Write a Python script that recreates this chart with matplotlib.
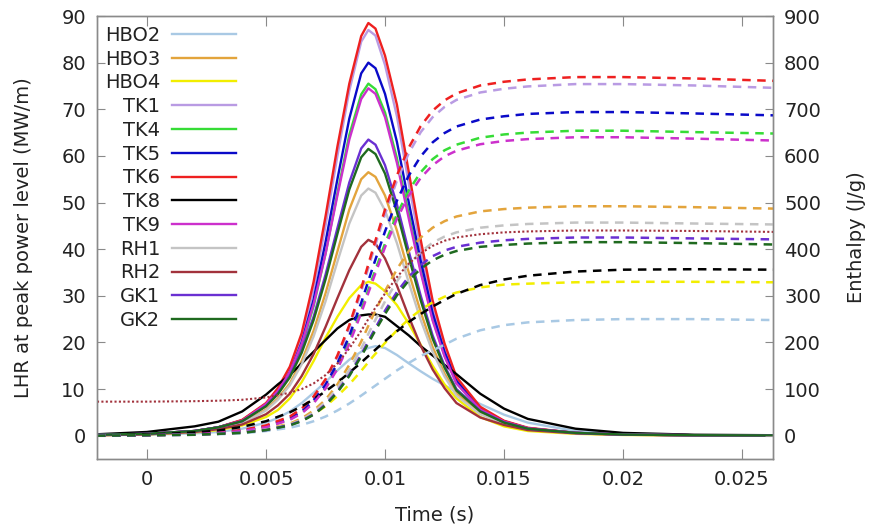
"""
LHR pulses (solid, left axis) and fuel enthalpy (dashed, right axis)
"""
import matplotlib
matplotlib.use('Agg')
import matplotlib.pyplot as plt

# time grid of the power pulses (s)
t_lhr = [-0.0021, 0.0, 0.002, 0.003, 0.004, 0.005, 0.0055, 0.006, 0.0065, 0.007,
         0.0075, 0.008, 0.0085, 0.009, 0.0093, 0.0096, 0.01, 0.0105, 0.011, 0.0115,
         0.012, 0.0125, 0.013, 0.014, 0.015, 0.016, 0.018, 0.02, 0.023, 0.0263]

# LHR at peak power level (MW/m)
lhr_hbo2 = [0.1, 0.2, 0.5, 0.8, 1.5, 2.8, 3.8, 5.2, 7, 9.2, 11.5, 14, 16.3, 18, 18.8,
            19.2, 18.8, 17.3, 15.5, 13.8, 12.2, 10.8, 9.4, 6.8, 4.5, 2.8, 1, 0.4, 0.1, 0]
lhr_hbo3 = [0.1, 0.3, 0.8, 1.5, 2.7, 5.6, 8, 11.2, 16, 22.5, 30.5, 39.5, 48.5, 55, 56.5,
            55.5, 51.5, 44, 35, 26.5, 19, 13.3, 9, 4.8, 2.7, 1.4, 0.5, 0.2, 0.1, 0.05]
lhr_hbo4 = [0.1, 0.3, 0.7, 1.2, 2.2, 4, 5.5, 8, 11.5, 16, 21, 25.5, 29.5, 32.3, 33,
            32.6, 31, 28, 24, 19.5, 15, 11, 8, 4, 2, 1, 0.4, 0.15, 0.05, 0]
lhr_tk1 = [0.2, 0.4, 1.0, 1.8, 3.3, 6.8, 9.8, 14.2, 21, 31.5, 45, 60, 74, 84.5, 87,
           85.8, 79.5, 68.5, 54, 40, 27.5, 18.5, 12, 5.9, 3.1, 1.6, 0.6, 0.25, 0.1, 0.05]
lhr_tk4 = [0.2, 0.4, 1.0, 1.8, 3.2, 6.6, 9.4, 13.2, 19.2, 27.8, 39, 52, 64.5, 73.2, 75.5,
           74.3, 69.3, 59.5, 47.5, 35.5, 25, 17.2, 11.3, 5.7, 3.0, 1.6, 0.6, 0.25, 0.1, 0.05]
lhr_tk5 = [0.2, 0.4, 1.0, 1.8, 3.3, 6.8, 9.6, 13.6, 20, 29.2, 41.5, 55, 68, 77.7, 80,
           78.8, 73.3, 63, 50, 37.5, 26.3, 18, 11.8, 5.8, 3.1, 1.6, 0.6, 0.25, 0.1, 0.05]
lhr_tk6 = [0.2, 0.4, 1.0, 1.8, 3.4, 7.0, 10.2, 14.8, 22, 33, 47, 62, 75.5, 85.7, 88.5,
           87.3, 81.5, 71, 56.5, 42, 29, 19.8, 12.6, 6.2, 3.2, 1.7, 0.6, 0.25, 0.1, 0.05]
lhr_tk8 = [0.3, 0.8, 2, 3, 5.2, 8.8, 11, 13, 15.5, 18, 20.5, 23, 24.8, 25.8, 26,
           26, 25.5, 23.5, 21.5, 19.2, 17.2, 15.2, 13.2, 9, 5.8, 3.6, 1.5, 0.6, 0.2, 0.1]
lhr_tk9 = [0.2, 0.4, 1.0, 1.8, 3.2, 6.8, 9.6, 13.6, 19.7, 28.2, 39, 51.5, 63.5, 72.2, 74.5,
           73.3, 68.3, 58.5, 46.5, 35, 24.7, 17, 11.2, 5.6, 3.0, 1.6, 0.6, 0.25, 0.1, 0.05]
lhr_rh1 = [0.1, 0.3, 0.8, 1.4, 2.6, 5.4, 7.7, 10.8, 15.3, 21.3, 28.8, 37.3, 45.5, 51.5, 53,
           52.1, 48.3, 41.3, 32.8, 24.8, 18, 12.7, 8.6, 4.6, 2.6, 1.3, 0.5, 0.2, 0.1, 0.05]
lhr_rh2 = [0.1, 0.3, 0.8, 1.4, 2.4, 4.6, 6.5, 9, 12.8, 17.5, 23.3, 29.5, 35.5, 40.5, 42,
           41.2, 38, 32.2, 25.5, 19.3, 14.2, 10.2, 7, 3.9, 2.3, 1.2, 0.5, 0.2, 0.1, 0.05]
lhr_gk1 = [0.2, 0.4, 1.0, 1.8, 3.1, 6.4, 9.1, 12.8, 18.3, 25.5, 34.5, 44.5, 54.3, 61.6, 63.5,
           62.4, 58, 49.6, 39.5, 30, 21.5, 15, 10, 5.3, 2.9, 1.5, 0.6, 0.25, 0.1, 0.05]
lhr_gk2 = [0.2, 0.4, 1.0, 1.8, 3.1, 6.3, 8.9, 12.5, 17.8, 24.8, 33.5, 43.3, 52.8, 59.7, 61.5,
           60.4, 56.2, 48, 38.3, 29, 20.8, 14.6, 9.7, 5.2, 2.8, 1.5, 0.6, 0.25, 0.1, 0.05]

# time grid of the enthalpy curves (s)
t_h = [-0.0021, 0.0, 0.002, 0.003, 0.004, 0.005, 0.006, 0.0065, 0.007, 0.0075,
       0.008, 0.0085, 0.009, 0.0095, 0.01, 0.0105, 0.011, 0.0115, 0.012, 0.0125,
       0.013, 0.014, 0.015, 0.016, 0.018, 0.02, 0.023, 0.0263]

# enthalpy (J/g)
h_hbo2 = [0, 1, 2, 3, 5, 10, 17, 23, 31, 41, 54, 69, 86, 104, 122, 140, 156, 171, 183, 195,
          208, 226, 237, 243, 248, 250, 250, 248]
h_hbo3 = [0, 1, 3, 4, 7, 14, 26, 37, 54, 77, 110, 152, 202, 258, 310, 357, 396, 425, 446, 460,
          470, 481, 486, 489, 492, 492, 490, 487]
h_hbo4 = [0, 1, 3, 4, 8, 13, 24, 33, 46, 63, 85, 110, 139, 170, 199, 226, 250, 270, 286, 298,
          307, 318, 324, 326, 329, 330, 330, 329]
h_tk1 = [0, 1, 4, 7, 11, 21, 40, 57, 82, 118, 168, 232, 309, 394, 475, 547, 606, 651, 683, 705,
         720, 736, 744, 749, 754, 754, 751, 746]
h_tk4 = [0, 1, 3, 6, 10, 18, 35, 49, 71, 103, 146, 202, 269, 342, 412, 475, 526, 565, 593, 612,
         624, 639, 646, 650, 654, 654, 651, 648]
h_tk5 = [0, 1, 4, 6, 11, 20, 37, 52, 76, 109, 155, 214, 285, 363, 438, 504, 558, 599, 629, 649,
         663, 678, 685, 690, 694, 694, 691, 687]
h_tk6 = [0, 1, 4, 7, 12, 22, 41, 58, 84, 121, 172, 237, 316, 402, 485, 558, 618, 664, 697, 719,
         734, 751, 759, 764, 769, 769, 766, 761]
h_tk8 = [0, 2, 7, 11, 19, 31, 50, 63, 78, 95, 114, 135, 157, 180, 203, 224, 244, 261, 277, 291,
         304, 323, 335, 343, 352, 356, 357, 356]
h_tk9 = [0, 1, 3, 6, 10, 18, 34, 48, 70, 101, 143, 197, 263, 335, 404, 465, 515, 553, 580, 599,
         611, 625, 632, 636, 640, 640, 637, 633]
h_rh1 = [0, 1, 2, 4, 7, 13, 24, 34, 50, 72, 102, 141, 187, 239, 288, 331, 367, 394, 414, 427,
         436, 446, 451, 454, 457, 457, 455, 453]
h_rh2 = [73, 73, 74, 75, 77, 82, 92, 100, 112, 130, 155, 187, 225, 267, 305, 340, 369, 391, 407, 418,
         425, 432, 436, 438, 440, 440, 439, 437]
h_gk1 = [0, 1, 2, 4, 7, 12, 23, 32, 46, 67, 95, 131, 174, 222, 268, 308, 341, 366, 385, 397,
         405, 414, 419, 422, 425, 425, 423, 421]
h_gk2 = [0, 1, 2, 4, 6, 12, 22, 31, 45, 65, 93, 128, 170, 217, 261, 301, 333, 358, 376, 388,
         396, 405, 409, 412, 415, 415, 413, 410]

names = ['HBO2', 'HBO3', 'HBO4', 'TK1', 'TK4', 'TK5', 'TK6', 'TK8', 'TK9',
         'RH1', 'RH2', 'GK1', 'GK2']
colors = ['#a9c9e4', '#e3a43c', '#f2ee00', '#b99be3', '#36dc36', '#0a0ac8', '#ee2020',
          '#000000', '#cc30cc', '#c4c4c4', '#a2323c', '#6a30d2', '#1f6a1f']
lhr = [lhr_hbo2, lhr_hbo3, lhr_hbo4, lhr_tk1, lhr_tk4, lhr_tk5, lhr_tk6, lhr_tk8, lhr_tk9,
       lhr_rh1, lhr_rh2, lhr_gk1, lhr_gk2]
enth = [h_hbo2, h_hbo3, h_hbo4, h_tk1, h_tk4, h_tk5, h_tk6, h_tk8, h_tk9,
        h_rh1, h_rh2, h_gk1, h_gk2]

plt.rcParams['font.family'] = 'DejaVu Sans'
plt.rcParams['font.size'] = 14
text_c = '#222222'
frame_c = '#8a8a8a'

fig = plt.figure(figsize=(8.74, 5.31), dpi=100)
ax = fig.add_axes([97/874, 72/531, 676/874, 443/531])
ax2 = ax.twinx()

for name, c, y in zip(names, colors, lhr):
    ax.plot(t_lhr, y, color=c, lw=1.7, label=name)

for name, c, y in zip(names, colors, enth):
    if name == 'RH2':
        ax2.plot(t_h, y, color=c, lw=1.5, dashes=(1, 1.1))
    else:
        ax2.plot(t_h, y, color=c, lw=1.8, dashes=(3.4, 2.6))

ax.set_xlim(-0.0021, 0.0263)
ax.set_ylim(-5, 90)
ax2.set_ylim(-50, 900)
ax.set_xticks([0, 0.005, 0.01, 0.015, 0.02, 0.025])
ax.set_xticklabels(['0', '0.005', '0.01', '0.015', '0.02', '0.025'])
ax.set_yticks(range(0, 91, 10))
ax2.set_yticks(range(0, 901, 100))

ax.tick_params(axis='x', direction='in', length=7, width=0.8, top=True, pad=8,
               colors=frame_c, labelcolor=text_c)
ax.tick_params(axis='y', direction='in', length=6, width=0.8, pad=8,
               colors=frame_c, labelcolor=text_c)
ax2.tick_params(axis='y', direction='in', length=6, width=0.8, pad=8,
                colors=frame_c, labelcolor=text_c)
for a in (ax, ax2):
    for s in a.spines.values():
        s.set_color(frame_c)
        s.set_linewidth(1.0)

ax.set_xlabel('Time (s)', color=text_c, labelpad=12)
ax.set_ylabel('LHR at peak power level (MW/m)', color=text_c, labelpad=20)
ax2.set_ylabel('Enthalpy (J/g)', color=text_c, labelpad=19)

leg = ax.legend(loc='upper left', bbox_to_anchor=(0.012, 0.978), frameon=False,
                markerfirst=False, handlelength=3.3, handletextpad=0.6,
                labelspacing=0.245, borderpad=0, borderaxespad=0, fontsize=14)
for txt in leg.get_texts():
    txt.set_color(text_c)

fig.savefig('out.png', dpi=100)
